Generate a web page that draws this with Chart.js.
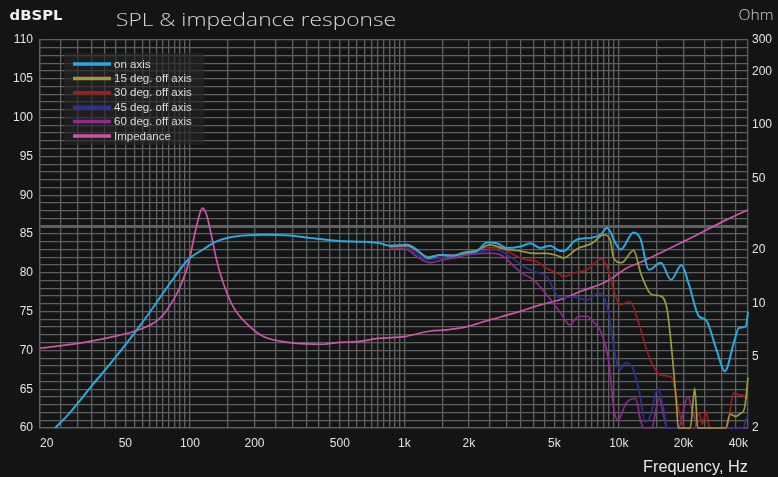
<!DOCTYPE html>
<html><head><meta charset="utf-8">
<script src="https://cdn.jsdelivr.net/npm/chart.js@4"></script>
<style>html,body{margin:0;padding:0;background:#131414;}canvas{display:block}</style>
</head><body>
<canvas id="c" width="778" height="477"></canvas>
<script>
// ---------- data ----------
const onAxisFreq = [23.5, 27, 30, 35, 40, 48, 55, 63, 70, 75, 84, 92, 100, 115, 133, 165, 220, 293, 362, 500, 650, 770, 850, 1030, 1140, 1290, 1470, 1690, 1880, 2180, 2430, 2700, 3010, 3480, 3870, 4300, 4790, 5330, 5530, 6150, 6380, 7360, 8200, 8500, 8800, 9100, 9450, 10200, 11700, 12600, 13800, 15700, 17500, 19600, 21100, 23600, 25500, 28500, 31200, 34300, 36300, 39100, 40000];
const onAxisSpl = [60, 61.7, 63.2, 65.5, 67.4, 70.1, 72.2, 74.4, 76.2, 77.4, 79.3, 80.8, 81.9, 83.0, 84.05, 84.7, 84.9, 84.8, 84.5, 84.1, 84.0, 83.8, 83.5, 83.6, 83.0, 81.9, 82.3, 82.2, 82.5, 82.8, 83.9, 83.8, 83.2, 83.4, 83.8, 83.2, 83.5, 82.8, 82.8, 84.0, 84.3, 84.5, 84.9, 85.4, 85.8, 85.4, 84.3, 83.0, 85.2, 84.4, 80.4, 81.3, 79.1, 81.0, 78.7, 74.4, 73.9, 70.1, 67.3, 70.9, 72.9, 73.1, 75.0];

const off15Freq = [850, 1030, 1140, 1290, 1470, 1690, 1880, 2180, 2500, 2700, 3000, 3500, 4000, 4600, 5300, 5500, 6400, 7500, 8500, 9100, 9450, 10300, 11700, 12700, 14200, 15700, 16800, 17700, 18600, 18900, 21500, 22600, 23300, 31500, 33000, 35000, 37000, 38500, 40000];
const off15Spl = [83.4, 83.5, 82.9, 82.0, 82.3, 82.2, 82.6, 82.9, 83.6, 83.4, 83.0, 82.8, 82.5, 82.5, 82.1, 81.9, 83.1, 83.8, 84.9, 84.3, 81.9, 81.3, 82.9, 79.8, 77.2, 77.0, 75.2, 69.6, 62.7, 60, 60, 65.1, 60, 60, 61.8, 61.5, 61.9, 62.5, 66.5];

const off30Freq = [850, 1030, 1290, 1570, 1960, 2360, 2700, 3000, 3350, 3700, 4100, 4600, 5300, 5500, 6200, 7100, 8300, 8800, 9100, 9450, 10100, 11300, 12400, 14000, 15700, 17500, 18300, 18900, 19800, 20500, 22500, 23600, 24500, 25500, 26500, 31800, 34300, 36000, 38000, 40000];
const off30Spl = [83.2, 83.4, 82.1, 82.3, 82.5, 83.2, 83.2, 82.8, 82.1, 81.7, 81.5, 80.6, 79.8, 79.5, 80.0, 80.4, 81.8, 80.8, 79.5, 77.8, 75.9, 76.3, 73.4, 68.8, 66.8, 66.6, 64.9, 62.7, 60.4, 60, 60, 62.0, 60.5, 62.1, 60, 60, 64.5, 64.3, 64.2, 63.5];

const off45Freq = [850, 1030, 1290, 1570, 1860, 2300, 2620, 2950, 3250, 3600, 4000, 4600, 5300, 6100, 7100, 8100, 8600, 9000, 9450, 10100, 10700, 11500, 12400, 13300, 14000, 15200, 16200, 16800, 37800, 39500, 40000];
const off45Spl = [83.4, 83.2, 81.7, 82.1, 82.5, 82.8, 83.0, 82.5, 81.7, 80.8, 80.2, 79.5, 76.8, 76.9, 76.5, 77.4, 76.6, 74.5, 70.5, 67.5, 68.4, 67.9, 64.9, 60.8, 61.5, 65.1, 62.3, 60, 60, 61.3, 61.7];

const off60Freq = [850, 1030, 1140, 1320, 1520, 1690, 1960, 2300, 2620, 2900, 3250, 3600, 4000, 4600, 5300, 5900, 6500, 7100, 7600, 8300, 9000, 9450, 9900, 10800, 12000, 12600, 13100, 14200, 15400, 16200, 16800, 18900, 21000, 22000, 23600, 40000];
const off60Spl = [83.2, 83.0, 82.1, 81.3, 81.7, 81.9, 82.3, 82.5, 82.5, 82.1, 80.8, 79.8, 79.1, 77.2, 75.0, 73.3, 74.4, 74.4, 73.7, 72.2, 68.3, 62.7, 61.0, 63.2, 63.8, 61.0, 60, 60, 63.8, 61.5, 60, 60, 64.0, 62.3, 60, 60];

const impFreq = [20, 30.6, 43.9, 54.6, 67.5, 75, 81, 90, 98.5, 105.6, 111.4, 114.6, 119.6, 126.2, 133, 143, 159, 183, 220, 272, 349, 420, 500, 600, 770, 1000, 1320, 1570, 1960, 2500, 3250, 4300, 5300, 6600, 8800, 10900, 12600, 20000, 31700, 40000];
const impOhm = [5.6, 5.98, 6.51, 6.95, 7.74, 8.6, 9.81, 12.4, 16.8, 24.8, 32.1, 34.2, 31.4, 23.7, 17.6, 13.0, 9.6, 7.74, 6.51, 6.1, 5.92, 5.9, 6.05, 6.1, 6.38, 6.51, 7.0, 7.1, 7.41, 8.08, 8.81, 9.81, 10.47, 11.65, 13.3, 15.8, 17.0, 22.2, 29.4, 33.5];

const seriesNames = ['on axis', '15 deg. off axis', '30 deg. off axis', '45 deg. off axis', '60 deg. off axis', 'Impedance'];
const freqLabelTicks = [20, 50, 100, 200, 500, 1000, 2000, 5000, 10000, 20000, 40000];
const ohmTicks = [2, 5, 10, 20, 50, 100, 200, 300];
const splMin = 60, splMax = 110, splLabelStep = 5, splRefLine = 86;
const freqMin = 20, freqMax = 40000;

// ---------- styles ----------
const seriesColors = ['#29a9e1', '#9a9a3c', '#9e1c1e', '#30308e', '#8e2a8e', '#cc55aa'];
const GRID = '#5f5f5f';
const TXT = '#e4e4e4';

function zip(f, v) { return f.map((x, i) => ({ x: x, y: v[i] })); }
function fmtFreq(v) { return v >= 1000 ? (v / 1000) + 'k' : String(v); }

// grid frequencies: every half-step of each decade
const gridFreqs = [];
for (let d = 10; d <= 10000; d *= 10) {
  for (let m = 2; m <= 20; m++) {
    const v = m * d / 2;
    if (v >= freqMin && v <= freqMax && !gridFreqs.includes(v)) gridFreqs.push(v);
  }
}
const splGrid = [];
for (let v = splMin; v <= splMax; v++) splGrid.push(v);

const pairs = [[onAxisFreq, onAxisSpl], [off15Freq, off15Spl], [off30Freq, off30Spl], [off45Freq, off45Spl], [off60Freq, off60Spl], [impFreq, impOhm]];
const datasets = pairs.map((p, i) => ({
  label: seriesNames[i],
  data: zip(p[0], p[1]),
  borderColor: seriesColors[i],
  backgroundColor: seriesColors[i],
  borderWidth: i === 0 ? 2 : 1.7,
  yAxisID: i === 5 ? 'y2' : 'y',
  pointRadius: 0,
  cubicInterpolationMode: 'monotone',
  fill: false,
  clip: 3
}));

const bgPlugin = {
  id: 'bg',
  beforeDraw(chart) {
    const c = chart.ctx; c.save(); c.fillStyle = '#131414';
    c.fillRect(0, 0, chart.width, chart.height); c.restore();
  }
};

function fitText(c, text, x, y, w, font, color) {
  c.save();
  c.font = font; c.fillStyle = color; c.textAlign = 'left'; c.textBaseline = 'alphabetic';
  const mw = c.measureText(text).width;
  c.translate(x, y); c.scale(w / mw, 1);
  c.fillText(text, 0, 0);
  c.restore();
}

const textPlugin = {
  id: 'texts',
  afterDraw(chart) {
    const c = chart.ctx;
    fitText(c, 'dBSPL', 9.5, 20, 53, 'bold 14px "DejaVu Sans"', '#f0f0f0');
    fitText(c, 'SPL & impedance response', 116, 26, 280, '300 18.5px "Open Sans"', '#d9d9d9');
    fitText(c, 'Ohm', 738.5, 20, 35, '300 15px "Open Sans"', '#d0d0d0');
    fitText(c, 'Frequency, Hz', 643, 471.5, 105, '16px "Liberation Sans"', '#e8e8e8');
  }
};

const legendPlugin = {
  id: 'customLegend',
  afterDatasetsDraw(chart) {
    const c = chart.ctx;
    c.save();
    c.fillStyle = 'rgba(38,38,38,0.66)';
    c.fillRect(64, 53, 140, 92);
    c.font = '11.5px "Liberation Sans"';
    c.textBaseline = 'middle';
    c.textAlign = 'left';
    chart.data.datasets.forEach((ds, i) => {
      const y = 64 + i * 14.4;
      c.strokeStyle = ds.borderColor; c.lineWidth = 3.5;
      c.beginPath(); c.moveTo(73, y); c.lineTo(111, y); c.stroke();
      c.fillStyle = '#dcdcdc';
      c.fillText(ds.label, 114, y + 0.5);
    });
    c.restore();
  }
};

const tickFont = { family: '"Liberation Sans", Arial, sans-serif', size: 12 };

new Chart(document.getElementById('c'), {
  type: 'line',
  data: { datasets: datasets },
  options: {
    responsive: false,
    animation: false,
    events: [],
    layout: { padding: { top: 40, left: 0, right: 0, bottom: 0 } },
    plugins: { legend: { display: false }, tooltip: { enabled: false }, title: { display: false } },
    scales: {
      x: {
        type: 'logarithmic', position: 'bottom', min: freqMin, max: freqMax,
        afterBuildTicks(s) { s.ticks = gridFreqs.map(v => ({ value: v })); },
        afterFit(s) { s.height = 49; },
        grid: { color: GRID, lineWidth: 1.3, drawTicks: false },
        border: { color: GRID, width: 1.3 },
        ticks: {
          autoSkip: false, maxRotation: 0, minRotation: 0, padding: 8, align: 'inner',
          color: TXT, font: tickFont,
          callback: (v) => freqLabelTicks.includes(v) ? fmtFreq(v) : ''
        }
      },
      y: {
        type: 'linear', position: 'left', min: splMin, max: splMax,
        afterBuildTicks(s) { s.ticks = splGrid.map(v => ({ value: v })); },
        afterFit(s) { s.width = 40; },
        grid: {
          color: GRID, drawTicks: false,
          lineWidth: (ctx) => (ctx.tick && ctx.tick.value === splRefLine) ? 3 : 1.3
        },
        border: { color: GRID, width: 1.3 },
        ticks: {
          autoSkip: false, padding: 7, color: TXT, font: tickFont,
          callback: (v) => (v % splLabelStep === 0) ? String(v) : ''
        }
      },
      y2: {
        type: 'logarithmic', position: 'right', min: ohmTicks[0], max: ohmTicks[ohmTicks.length - 1],
        afterBuildTicks(s) { s.ticks = ohmTicks.map(v => ({ value: v })); },
        afterFit(s) { s.width = 30; },
        grid: { drawOnChartArea: false, drawTicks: false },
        border: { display: false },
        ticks: { autoSkip: false, padding: 4, color: TXT, font: tickFont, callback: (v) => String(v) }
      }
    }
  },
  plugins: [bgPlugin, legendPlugin, textPlugin]
});
</script>
</body></html>
